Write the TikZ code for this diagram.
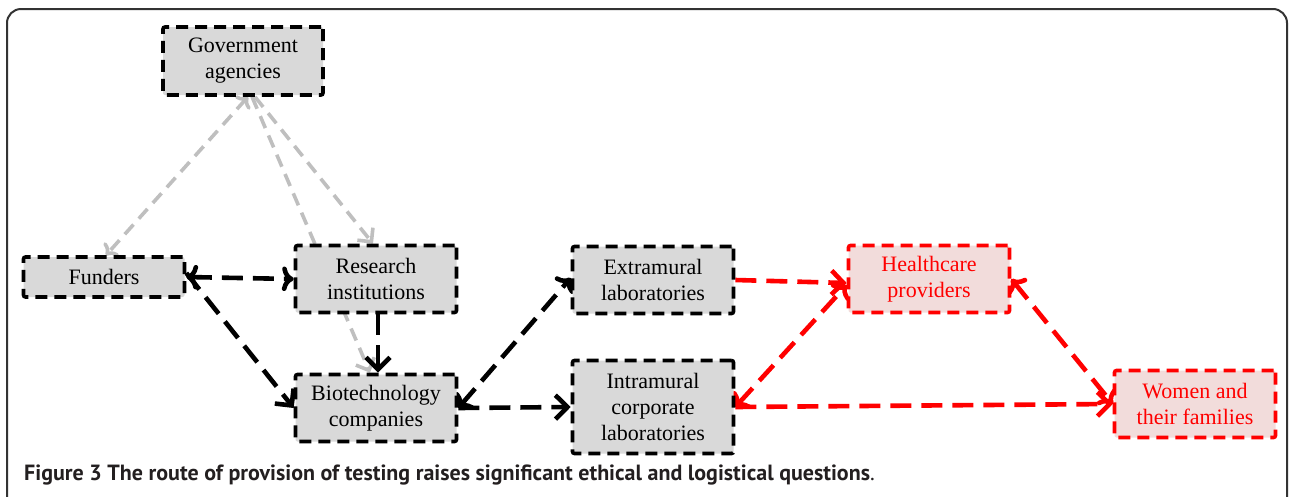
\documentclass[tikz,border=0pt]{standalone}
\usepackage{fontspec}
\setmainfont{Liberation Serif}
\newfontfamily\capfont{PT Sans}
\usetikzlibrary{arrows.meta,backgrounds}
\definecolor{boxgray}{HTML}{D9D9D9}
\definecolor{pinkfill}{HTML}{F2DCDB}
\definecolor{lightarrow}{HTML}{BFBFBF}
\definecolor{framegray}{HTML}{333333}
\definecolor{captext}{HTML}{231F20}
\begin{document}
\begin{tikzpicture}[x=1pt,y=-1pt,
  box/.style={draw=black, fill=boxgray, line width=3.6pt, dash pattern=on 12pt off 7pt,
    rounded corners=2pt, minimum width=161pt, minimum height=67pt, inner sep=0pt,
    align=center, font=\fontsize{22}{26}\selectfont},
  redbox/.style={box, draw=red, fill=pinkfill, text=red},
  conn/.style={line width=4.6pt, dash pattern=on 21pt off 10pt,
    -{Straight Barb[length=12pt,width=24pt]}},
  blackconn/.style={conn, draw=black},
  redconn/.style={conn, draw=red},
  grayconn/.style={conn, draw=lightarrow, line width=3.6pt, dash pattern=on 13pt off 8pt,
    -{Straight Barb[length=10pt,width=20pt]}},
]
\useasboundingbox (0,0) rectangle (1289,496);

% nodes
\node[box, minimum width=160pt, minimum height=68pt] (gov) at (243,61) {Government\\agencies};
\node[box, minimum height=40pt] (fund) at (104,277) {Funders};
\node[box] (res) at (376,279) {Research\\institutions};
\node[box] (bio) at (376,408) {Biotechnology\\companies};
\node[box] (ext) at (653,280) {Extramural\\laboratories};
\node[box, minimum height=93pt] (int) at (653,407) {Intramural\\corporate\\laboratories};
\node[redbox] (hc) at (929,279) {Healthcare\\providers};
\node[redbox] (wom) at (1195,404) {Women and\\their families};

\node[anchor=base west, inner sep=0pt, text=captext,
  font=\capfont\bfseries\fontsize{22}{24}\selectfont] (cap) at (24,480)
  {Figure 3 The route of provision of testing raises significant ethical and logistical questions{\mdseries.}};

\begin{scope}[on background layer]
  \draw[framegray, line width=2pt, rounded corners=14pt] (7,9) rectangle (1287,530);
  % gray connectors
  \draw[grayconn, <->] ([xshift=5pt]gov.south) -- ([xshift=2pt]fund.north);
  \draw[grayconn] ([xshift=12pt]gov.south) -- ([xshift=-3pt]res.north);
  \draw[grayconn] ([xshift=9pt]gov.south) -- ([xshift=-6pt]bio.north);
  % black connectors
  \draw[blackconn, <->] (fund.east) -- (res.west);
  \draw[blackconn] ([yshift=4pt]fund.east) -- (bio.west);
  \draw[blackconn] ([xshift=2pt]res.south) -- ([xshift=2pt]bio.north);
  \draw[blackconn, <->] (bio.east) -- ([yshift=2pt]ext.west);
  \draw[blackconn] (bio.east) -- (int.west);
  % red connectors
  \draw[redconn] (ext.east) -- ([yshift=-4pt]hc.west);
  \draw[redconn, <->] (int.east) -- ([yshift=-6pt]hc.west);
  \draw[redconn] (int.east) -- (wom.west);
  \draw[redconn, <->] (hc.east) -- (wom.west);
\end{scope}
\end{tikzpicture}
\end{document}
